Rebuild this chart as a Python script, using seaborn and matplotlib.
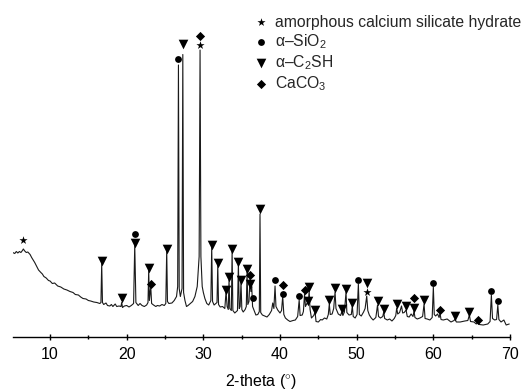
import matplotlib
matplotlib.use("Agg")
import matplotlib.pyplot as plt
import seaborn as sns
import numpy as np

# ---- XRD trace (2-theta in degrees, intensity in arbitrary units)
two_theta = [
    5.13, 5.4, 5.6, 5.8, 6.0, 6.2, 6.4, 6.52, 6.7, 6.9, 7.1, 7.4, 7.6, 7.8, 8.0, 8.2, 8.5, 8.8, 9.0, 9.2,
    9.5, 9.8, 10.0, 10.3, 10.6, 11.0, 11.4, 11.8, 12.2, 12.6, 13.0, 13.3, 13.7, 14.0, 14.3, 14.7, 15.0,
    15.3, 15.7, 16.1, 16.5, 16.64, 16.74, 16.84, 17.0, 17.3, 17.5, 17.8, 18.0, 18.2, 18.5, 18.7, 19.0,
    19.25, 19.35, 19.45, 19.7, 20.0, 20.3, 20.6, 20.9, 21.05, 21.2, 21.5, 21.74, 22.0, 22.3, 22.6, 22.78,
    22.87, 22.96, 23.14, 23.25, 23.5, 23.8, 24.0, 24.3, 24.6, 24.9, 25.1, 25.22, 25.32, 25.5, 25.9, 26.2,
    26.5, 26.65, 26.75, 26.85, 27.0, 27.22, 27.32, 27.42, 27.6, 27.8, 28.0, 28.3, 28.6, 28.9, 29.2, 29.45,
    29.57, 29.68, 29.85, 30.0, 30.2, 30.45, 30.7, 30.98, 31.09, 31.2, 31.4, 31.78, 31.88, 31.98, 32.2,
    32.5, 32.8, 32.96, 33.1, 33.25, 33.35, 33.45, 33.65, 33.75, 33.85, 34.1, 34.45, 34.57, 34.68, 34.8,
    34.91, 35.02, 35.2, 35.45, 35.6, 35.7, 35.8, 35.95, 36.09, 36.2, 36.31, 36.42, 36.6, 36.85, 37.1,
    37.3, 37.39, 37.48, 37.7, 38.0, 38.3, 38.6, 38.9, 39.05, 39.2, 39.35, 39.47, 39.7, 40.0, 40.2, 40.35,
    40.5, 40.7, 41.0, 41.3, 41.7, 42.0, 42.3, 42.5, 42.62, 42.9, 43.05, 43.2, 43.32, 43.5, 43.69, 43.8,
    43.92, 44.1, 44.4, 44.57, 44.7, 45.0, 45.3, 45.5, 45.8, 46.1, 46.3, 46.43, 46.55, 46.8, 47.0, 47.18,
    47.3, 47.6, 47.9, 48.05, 48.2, 48.4, 48.61, 48.72, 49.0, 49.3, 49.43, 49.55, 49.8, 50.05, 50.22,
    50.35, 50.6, 50.9, 51.1, 51.31, 51.45, 51.65, 51.9, 52.15, 52.5, 52.72, 52.85, 53.1, 53.4, 53.53,
    53.65, 54.0, 54.3, 54.6, 54.9, 55.1, 55.22, 55.35, 55.6, 55.85, 56.0, 56.2, 56.44, 56.6, 56.85, 57.1,
    57.35, 57.48, 57.6, 57.9, 58.25, 58.6, 58.79, 58.92, 59.2, 59.55, 59.85, 60.0, 60.12, 60.3, 60.55,
    60.75, 60.87, 61.0, 61.3, 61.8, 62.3, 62.7, 62.83, 63.0, 63.5, 64.1, 64.5, 64.7, 64.85, 65.3, 65.6,
    65.79, 66.0, 66.5, 67.1, 67.4, 67.57, 67.72, 68.0, 68.25, 68.41, 68.55, 68.83, 69.2, 69.5, 69.9,
]
intensity = [
    84, 83, 85, 83.5, 85, 84, 86, 87.5, 85.5, 84, 84.5, 82, 79, 76.5, 74, 71, 66.5, 64, 62.5, 60,
    58.5, 56, 55.5, 53, 53.5, 50.5, 49.5, 47.5, 46.5, 45, 44, 42, 41.5, 39.5, 38, 37.5, 36,
    35.5, 34.5, 34, 33, 34, 73, 34, 32, 33.5, 31, 30.5, 32, 30, 32.5, 30, 30.5,
    30, 34, 29, 30.5, 31, 29.5, 31, 33, 91.5, 34, 31, 33, 31, 30, 31.5, 34,
    66.5, 36, 50, 33, 31.5, 30, 31, 30.5, 32, 31, 33, 86.5, 35, 33, 33.5, 36,
    40, 50, 271.5, 48, 40, 48, 282, 44, 36, 30, 31, 33, 35, 40, 50, 80,
    286.5, 80, 50, 44, 38, 33, 31.5, 36, 90, 35, 31.5, 34, 71.5, 32, 29.5,
    30, 28, 45, 30, 27, 56.5, 28, 26, 85, 26, 23.5, 26, 73, 28, 30,
    55, 27, 24.5, 27, 30, 65, 32, 35, 58.5, 45, 50, 30, 26.5, 21.5, 22,
    25, 122.5, 24, 21.5, 20.5, 19.5, 22, 26, 33.5, 28, 50.5, 30, 26.5, 23.5, 26, 40,
    22, 18.5, 16.5, 15, 16, 16.5, 20, 36.5, 21, 21.5, 25, 42.5, 30, 33, 32.5, 45.5,
    27, 18.5, 21, 24.5, 15, 14.5, 17, 16.5, 18.5, 17.5, 22, 32.5, 22, 22.5, 28, 44.5,
    28, 22.5, 21, 24.5, 21, 24.5, 44.5, 24, 21.5, 22, 30.5, 20, 18.5, 22, 52.5,
    22, 20.5, 24.5, 28, 40.5, 26, 21.5, 18.5, 16.5, 19, 31.5, 20, 18.5, 20, 24.5,
    18, 16.5, 17.5, 15.5, 18, 21, 28.5, 22.5, 24, 30.5, 23.5, 24, 26.5, 20, 19.5, 22.5,
    20, 25.5, 19, 17.5, 18.5, 20, 32.5, 18, 17.5, 16.5, 19, 49.5, 22, 20.5, 22.5,
    19, 23.5, 17, 16.5, 17.5, 14.5, 16, 17.5, 14.5, 14.5, 15.5, 16, 21.5, 15, 14.5, 12.5,
    14.5, 12, 11.5, 12.5, 15, 41.5, 18, 16.5, 17, 31.5, 17, 14.5, 16.5, 11.5, 12.5,
]

# ---- phase markers (peak position, marker height)
csh_theta = [6.52, 29.57, 51.31]
csh_y = [97, 292, 45]
sio2_theta = [21.05, 26.75, 36.42, 39.35, 40.35, 42.5, 50.22, 60.0, 67.57, 68.41]
sio2_y = [103, 278, 39, 57, 42.5, 41, 56.5, 54, 45.5, 36]
c2sh_theta = [16.74, 19.35, 21.05, 22.87, 25.22, 27.32, 31.09, 31.88, 32.96, 33.35, 33.75, 34.57,
              34.91, 35.7, 36.09, 37.39, 43.8, 43.69, 44.57, 46.43, 47.18, 48.05, 48.61, 49.43,
              51.31, 52.72, 53.53, 55.22, 56.44, 57.48, 58.79, 62.83, 64.7]
c2sh_y = [76, 39, 94, 69, 88, 292.5, 92, 74, 47, 60, 87.5, 75,
          57, 67.5, 52.5, 128, 50, 36, 27, 36.5, 48.5, 27.5, 48, 33.5,
          54, 35.5, 28, 32.5, 30.5, 28.5, 36.5, 21, 25]
caco3_theta = [23.14, 29.57, 36.09, 40.35, 43.2, 57.48, 60.87, 65.79]
caco3_y = [53, 300.5, 61.5, 52, 46.5, 39, 27, 17]

labels = ["amorphous calcium silicate hydrate", "α–SiO$_2$", "α–C$_2$SH", "CaCO$_3$"]
tick_values = [10, 20, 30, 40, 50, 60, 70]

sns.set_theme(style="white")
plt.rcParams["font.family"] = ["Liberation Sans", "DejaVu Sans"]
plt.rcParams["mathtext.fontset"] = "custom"
plt.rcParams["mathtext.rm"] = "Liberation Sans"

W, H = 529, 392
fig = plt.figure(figsize=(W / 100, H / 100), dpi=100)
ax = fig.add_axes([12.7 / W, (H - 336.5) / H, (510 - 12.7) / W, 316.5 / H])

sns.lineplot(x=two_theta, y=intensity, estimator=None, sort=False, color="#1a1a1a",
             linewidth=0.8, ax=ax)

h1 = ax.scatter(csh_theta, csh_y, marker="*", s=38, color="black", linewidths=0, zorder=3,
                label=labels[0])
h2 = ax.scatter(sio2_theta, sio2_y, marker="o", s=24, color="black", linewidths=0, zorder=3,
                label=labels[1])
h3 = ax.scatter(c2sh_theta, c2sh_y, marker="v", s=48, color="black", linewidths=0, zorder=3,
                label=labels[2])
h4 = ax.scatter(caco3_theta, caco3_y, marker="D", s=22, color="black", linewidths=0, zorder=3,
                label=labels[3])

ax.set_xlim(5.13, 70)
ax.set_ylim(0, 316.5)
ax.set_xticks(tick_values)
ax.set_xticks([15, 25, 35, 45, 55, 65], minor=True)
ax.set_yticks([])
for s in ["left", "right", "top"]:
    ax.spines[s].set_visible(False)
ax.spines["bottom"].set_color("black")
ax.spines["bottom"].set_linewidth(1.0)
ax.tick_params(axis="x", which="major", direction="inout", length=5, width=1, colors="black",
               labelsize=11.5, pad=5, bottom=True)
ax.tick_params(axis="x", which="minor", direction="inout", length=3.5, width=1, colors="black",
               bottom=True)
ax.set_xlabel("2-theta ($^{\\circ}$)", fontsize=11.5, labelpad=7.5, color="black")
ax.set_ylabel("")

leg = fig.legend(handles=[h1, h2, h3, h4], labels=labels, loc="upper left",
                 bbox_to_anchor=(256 / W, 1 - 14.5 / H), frameon=False, fontsize=11.3,
                 handlelength=0.7, handletextpad=0.5, labelspacing=0.16, borderpad=0,
                 borderaxespad=0)

fig.savefig("out.png", dpi=100)
